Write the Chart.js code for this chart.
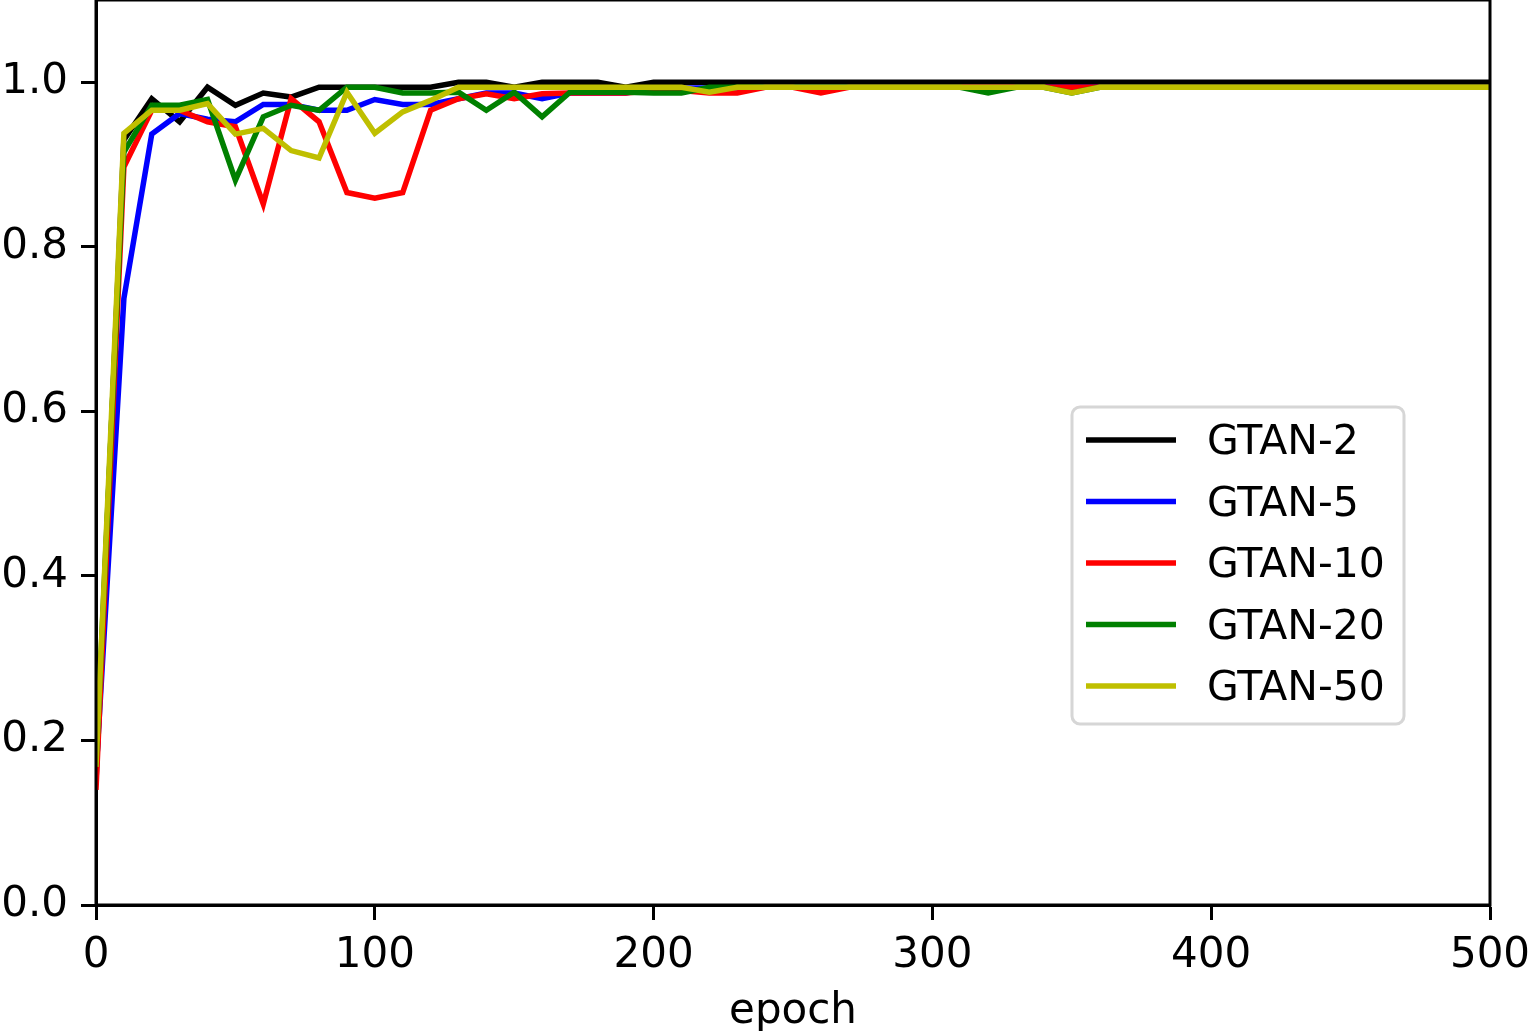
<!DOCTYPE html>
<html lang="en">
<head>
  <meta charset="UTF-8" />
  <title>GTAN accuracy by epoch</title>
  <script src="https://cdn.jsdelivr.net/npm/chart.js"></script>
  <style>
    body { margin: 0; background: #ffffff; }
    #wrap { width: 1530px; height: 1031px; position: relative; }
  </style>
</head>
<body>
  <div id="wrap"><canvas id="accChart"></canvas></div>

  <script>
    // data, one value every 10 epochs
    const epochs = [0,10,20,30,40,50,60,70,80,90,100,110,120,130,140,150,160,170,180,190,200,
      210,220,230,240,250,260,270,280,290,300,310,320,330,340,350,360,370,380,390,400,
      410,420,430,440,450,460,470,480,490,500];

    const gtan2 = [0.15,0.93,0.98,0.952,0.994,0.972,0.987,0.982,0.994,0.994,0.994,0.994,0.994,1.0,1.0,0.994,1.0,1.0,1.0,0.994,1.0,
      1.0,1.0,1.0,1.0,1.0,1.0,1.0,1.0,1.0,1.0,1.0,1.0,1.0,1.0,1.0,1.0,1.0,1.0,1.0,1.0,
      1.0,1.0,1.0,1.0,1.0,1.0,1.0,1.0,1.0,1.0];
    const gtan5 = [0.16,0.737,0.937,0.962,0.955,0.952,0.973,0.973,0.966,0.966,0.979,0.973,0.973,0.98,0.987,0.987,0.98,0.987,0.987,0.987,0.993,
      0.993,0.993,0.993,0.994,0.994,0.994,0.994,0.994,0.994,0.994,0.994,0.994,0.994,0.994,0.994,0.994,0.994,0.994,0.994,0.994,
      0.994,0.994,0.994,0.994,0.994,0.994,0.994,0.994,0.994,0.994];
    const gtan10 = [0.14,0.897,0.966,0.966,0.952,0.946,0.852,0.98,0.952,0.866,0.859,0.866,0.966,0.98,0.986,0.98,0.986,0.987,0.987,0.987,0.99,
      0.99,0.987,0.987,0.994,0.994,0.987,0.994,0.994,0.994,0.994,0.994,0.994,0.994,0.994,0.994,0.994,0.994,0.994,0.994,0.994,
      0.994,0.994,0.994,0.994,0.994,0.994,0.994,0.994,0.994,0.994];
    const gtan20 = [0.17,0.915,0.972,0.972,0.979,0.881,0.958,0.972,0.966,0.994,0.994,0.987,0.987,0.988,0.966,0.988,0.958,0.988,0.988,0.988,0.987,
      0.987,0.994,0.994,0.994,0.994,0.994,0.994,0.994,0.994,0.994,0.994,0.987,0.994,0.994,0.987,0.994,0.994,0.994,0.994,0.994,
      0.994,0.994,0.994,0.994,0.994,0.994,0.994,0.994,0.994,0.994];
    const gtan50 = [0.168,0.938,0.966,0.966,0.974,0.937,0.944,0.917,0.908,0.988,0.938,0.964,0.978,0.994,0.994,0.994,0.994,0.994,0.994,0.994,0.994,
      0.994,0.988,0.994,0.994,0.994,0.994,0.994,0.994,0.994,0.994,0.994,0.994,0.994,0.994,0.987,0.994,0.994,0.994,0.994,0.994,
      0.994,0.994,0.994,0.994,0.994,0.994,0.994,0.994,0.994,0.994];

    const seriesNames = ['GTAN-2', 'GTAN-5', 'GTAN-10', 'GTAN-20', 'GTAN-50'];
    const seriesValues = [gtan2, gtan5, gtan10, gtan20, gtan50];
    const seriesColors = ['#000000', '#0000ff', '#ff0000', '#008000', '#bfbf00'];

    const xTicks = [0, 100, 200, 300, 400, 500];
    const yTicks = [0.0, 0.2, 0.4, 0.6, 0.8, 1.0];

    const FONT = "'DejaVu Sans', sans-serif";

    // top/right spines like matplotlib
    const framePlugin = {
      id: 'frame',
      afterDatasetsDraw(chart) {
        const { ctx, chartArea: a } = chart;
        ctx.save();
        ctx.strokeStyle = '#000';
        ctx.lineWidth = 3;
        ctx.strokeRect(a.left, a.top, a.right - a.left, a.bottom - a.top);
        ctx.restore();
      }
    };

    // legend box drawn inside the plot, lower right
    const boxLegend = {
      id: 'boxLegend',
      afterDraw(chart) {
        const ctx = chart.ctx;
        const x0 = 1072, y0 = 407, w = 332, h = 317, r = 8;
        ctx.save();
        ctx.beginPath();
        ctx.roundRect(x0, y0, w, h, r);
        ctx.fillStyle = 'rgba(255,255,255,0.8)';
        ctx.fill();
        ctx.lineWidth = 3;
        ctx.strokeStyle = '#d6d6d6';
        ctx.stroke();
        ctx.font = '41px ' + FONT;
        ctx.textBaseline = 'alphabetic';
        chart.data.datasets.forEach((ds, i) => {
          const cy = 440 + i * 61.5;
          ctx.beginPath();
          ctx.moveTo(1086, cy);
          ctx.lineTo(1176, cy);
          ctx.strokeStyle = ds.borderColor;
          ctx.lineWidth = 5.5;
          ctx.stroke();
          ctx.fillStyle = '#000';
          ctx.fillText(ds.label, 1207, cy + 14);
        });
        ctx.restore();
      }
    };

    // matplotlib draws the first series at the bottom, so reverse drawing order
    const datasets = seriesNames.map((name, i) => ({
      label: name,
      data: epochs.map((e, j) => ({ x: e, y: seriesValues[i][j] })),
      borderColor: seriesColors[i],
      backgroundColor: seriesColors[i],
      borderWidth: 5.5,
      pointRadius: 0,
      tension: 0,
      fill: false,
      order: seriesNames.length - i
    }));

    new Chart('accChart', {
      type: 'line',
      data: { datasets },
      options: {
        responsive: true,
        maintainAspectRatio: false,
        animation: false,
        layout: { padding: { top: 0, right: 40, bottom: 0, left: 0 } },
        plugins: {
          legend: { display: false },
          tooltip: { enabled: false }
        },
        scales: {
          x: {
            type: 'linear',
            min: 0,
            max: 500,
            afterBuildTicks: s => { s.ticks = xTicks.map(v => ({ value: v })); },
            afterFit: s => { s.height = 126; s.paddingLeft = 0; s.paddingRight = 0; },
            border: { display: true, color: '#000', width: 3 },
            grid: { drawOnChartArea: false, drawTicks: true, tickLength: 15, tickWidth: 3, tickColor: '#000' },
            ticks: { color: '#000', padding: 11, maxRotation: 0, font: { family: FONT, size: 42 } },
            title: {
              display: true,
              text: 'epoch',
              color: '#000',
              font: { family: FONT, size: 42, lineHeight: 1 },
              padding: { top: 0, bottom: -2 }
            }
          },
          y: {
            min: 0,
            max: 1.1,
            afterBuildTicks: s => { s.ticks = yTicks.map(v => ({ value: v })); },
            afterFit: s => { s.width = 96; s.paddingTop = 0; s.paddingBottom = 0; },
            border: { display: true, color: '#000', width: 3 },
            grid: { drawOnChartArea: false, drawTicks: true, tickLength: 15, tickWidth: 3, tickColor: '#000' },
            ticks: {
              color: '#000',
              padding: 13,
              font: { family: FONT, size: 42 },
              callback: v => v.toFixed(1)
            }
          }
        }
      },
      plugins: [framePlugin, boxLegend]
    });
  </script>
</body>
</html>
